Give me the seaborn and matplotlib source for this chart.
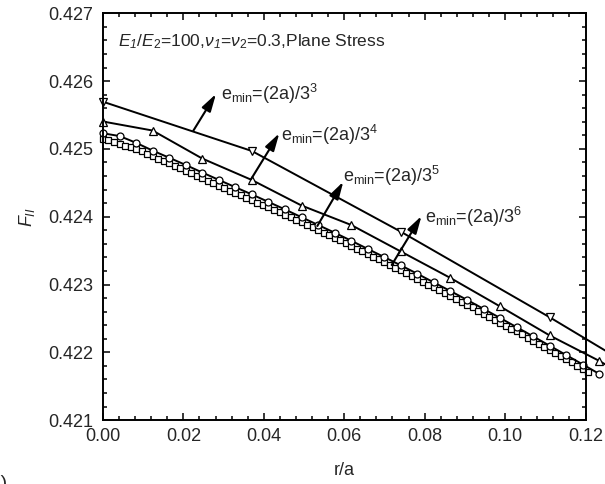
import numpy as np
import pandas as pd
import matplotlib.pyplot as plt
import seaborn as sns

# F_II along r/a for four minimum element sizes e_min = (2a)/3^n
r_e3 = [0.0, 0.03704, 0.07407, 0.11111, 0.14815]
f_e3 = [0.425696, 0.424969, 0.423779, 0.422516, 0.421200]

r_e4 = [0.0, 0.01235, 0.02469, 0.03704, 0.04938, 0.06173, 0.07407, 0.08642,
        0.09877, 0.11111, 0.12346, 0.13580]
f_e4 = [0.425404, 0.425271, 0.424858, 0.424541, 0.424165, 0.423878, 0.423487,
        0.423096, 0.422676, 0.422248, 0.421872, 0.421444]

r_e5 = [0.0, 0.00412, 0.00823, 0.01235, 0.01646, 0.02058, 0.02469, 0.02881,
        0.03292, 0.03704, 0.04115, 0.04527, 0.04938, 0.05350, 0.05761, 0.06173,
        0.06584, 0.06996, 0.07407, 0.07819, 0.08230, 0.08642, 0.09053, 0.09465,
        0.09877, 0.10288, 0.10700, 0.11111, 0.11523, 0.11934, 0.12346]
f_e5 = [0.425230, 0.425190, 0.425090, 0.424975, 0.424870, 0.424763, 0.424652,
        0.424543, 0.424435, 0.424328, 0.424218, 0.424107, 0.423992, 0.423878,
        0.423764, 0.423646, 0.423525, 0.423404, 0.423282, 0.423158, 0.423030,
        0.422903, 0.422773, 0.422640, 0.422506, 0.422370, 0.422234, 0.422096,
        0.421958, 0.421820, 0.421680]

r_e6 = [0.0, 0.00137, 0.00274, 0.00412, 0.00549, 0.00686, 0.00823, 0.00960,
        0.01097, 0.01235, 0.01372, 0.01509, 0.01646, 0.01783, 0.01920, 0.02058,
        0.02195, 0.02332, 0.02469, 0.02606, 0.02743, 0.02881, 0.03018, 0.03155,
        0.03292, 0.03429, 0.03567, 0.03704, 0.03841, 0.03978, 0.04115, 0.04252,
        0.04390, 0.04527, 0.04664, 0.04801, 0.04938, 0.05075, 0.05213, 0.05350,
        0.05487, 0.05624, 0.05761, 0.05898, 0.06036, 0.06173, 0.06310, 0.06447,
        0.06584, 0.06722, 0.06859, 0.06996, 0.07133, 0.07270, 0.07407, 0.07545,
        0.07682, 0.07819, 0.07956, 0.08093, 0.08230, 0.08368, 0.08505, 0.08642,
        0.08779, 0.08916, 0.09053, 0.09191, 0.09328, 0.09465, 0.09602, 0.09739,
        0.09877, 0.10014, 0.10151, 0.10288, 0.10425, 0.10562, 0.10700, 0.10837,
        0.10974, 0.11111, 0.11248, 0.11385, 0.11523, 0.11660, 0.11797, 0.11934,
        0.12071]
f_e6 = [0.425145, 0.425130, 0.425108, 0.425078, 0.425050, 0.425026, 0.425005,
        0.424967, 0.424928, 0.424890, 0.424855, 0.424820, 0.424785, 0.424749,
        0.424714, 0.424678, 0.424641, 0.424604, 0.424567, 0.424531, 0.424494,
        0.424458, 0.424422, 0.424386, 0.424350, 0.424314, 0.424279, 0.424243,
        0.424206, 0.424170, 0.424138, 0.424103, 0.424068, 0.424032, 0.423994,
        0.423955, 0.423917, 0.423879, 0.423841, 0.423803, 0.423765, 0.423727,
        0.423689, 0.423650, 0.423610, 0.423571, 0.423531, 0.423490, 0.423450,
        0.423410, 0.423369, 0.423329, 0.423288, 0.423248, 0.423207, 0.423166,
        0.423124, 0.423083, 0.423040, 0.422998, 0.422962, 0.422920, 0.422877,
        0.422835, 0.422792, 0.422748, 0.422705, 0.422661, 0.422616, 0.422572,
        0.422527, 0.422483, 0.422438, 0.422393, 0.422347, 0.422308, 0.422263,
        0.422217, 0.422172, 0.422126, 0.422080, 0.422034, 0.421988, 0.421942,
        0.421896, 0.421850, 0.421804, 0.421758, 0.421711]

labels = [r'e$_{\mathregular{min}}$=(2a)/3$^{\mathregular{3}}$',
          r'e$_{\mathregular{min}}$=(2a)/3$^{\mathregular{4}}$',
          r'e$_{\mathregular{min}}$=(2a)/3$^{\mathregular{5}}$',
          r'e$_{\mathregular{min}}$=(2a)/3$^{\mathregular{6}}$']

sns.set_style('ticks')
plt.rcParams['font.family'] = ['Liberation Sans', 'DejaVu Sans']
plt.rcParams['mathtext.fontset'] = 'custom'
plt.rcParams['mathtext.rm'] = 'Liberation Sans'
plt.rcParams['mathtext.it'] = 'Liberation Sans:italic'
plt.rcParams['mathtext.sf'] = 'Liberation Sans:italic'
plt.rcParams['mathtext.bf'] = 'Liberation Sans:bold'

fig = plt.figure(figsize=(6.05, 4.84), dpi=100)
ax = fig.add_axes([0.1702, 0.1320, 0.7976, 0.8405])

series = [(r_e6, f_e6, 's', 4.0), (r_e5, f_e5, 'o', 5.0),
          (r_e4, f_e4, '^', 6.0), (r_e3, f_e3, 'v', 6.0)]
for r, f, mk, ms in series:
    df = pd.DataFrame({'r': r, 'F': f})
    sns.lineplot(data=df, x='r', y='F', ax=ax, sort=False, color='black',
                 lw=1.4, marker=mk, markersize=ms, markerfacecolor='white',
                 markeredgecolor='black', markeredgewidth=0.9, clip_on=False)

# arrows pointing to each curve label: (tail, head, text anchor)
arrows = [((0.02246, 0.425268), (0.02810, 0.425810), (0.02935, 0.425721)),
          ((0.03681, 0.424552), (0.04385, 0.425230), (0.04427, 0.425117)),
          ((0.05330, 0.423863), (0.05976, 0.424516), (0.05976, 0.424516)),
          ((0.07180, 0.423288), (0.07921, 0.424010), (0.08008, 0.423912))]
for (tail, head, txt), lab in zip(arrows, labels):
    ax.annotate('', xy=head, xytext=tail,
                arrowprops=dict(arrowstyle='-|>,head_length=0.7,head_width=0.2',
                                color='black', lw=1.5, mutation_scale=15,
                                shrinkA=0, shrinkB=0))
    ax.text(txt[0], txt[1], lab, fontsize=13, ha='left', va='baseline')

ax.text(0.031, 0.930,
        r'$\mathit{E}_{\mathsf{1}}$/$\mathit{E}_{\mathregular{2}}$=100,'
        r'$\nu_{\mathsf{1}}$=$\nu_{\mathregular{2}}$=0.3,Plane Stress',
        fontsize=12.5, ha='left', va='center', transform=ax.transAxes)

ax.set_xlim(0, 0.12)
ax.set_ylim(0.421, 0.427)
ax.set_xticks(np.arange(0, 0.1201, 0.02))
ax.set_xticks(np.arange(0, 0.1201, 0.004), minor=True)
ax.set_yticks(np.arange(0.421, 0.42701, 0.001))
ax.set_yticks(np.arange(0.421, 0.42701, 0.0002), minor=True)
ax.set_xticklabels(['%.2f' % v for v in np.arange(0, 0.1201, 0.02)])
ax.set_yticklabels(['%.3f' % v for v in np.arange(0.421, 0.42701, 0.001)])
ax.tick_params(which='both', direction='in', top=True, right=True,
               width=1.1, labelsize=13, color='black')
ax.tick_params(which='major', length=5)
ax.tick_params(which='minor', length=3)
ax.tick_params(axis='y', pad=7)
ax.tick_params(axis='x', pad=6)
for s in ax.spines.values():
    s.set_visible(True)
    s.set_linewidth(1.4)
    s.set_color('black')

ax.set_xlabel('r/a', fontsize=13, labelpad=12)
ax.set_ylabel(r'$\mathit{F}_{\mathsf{II}}$', fontsize=13, labelpad=8)

fig.text(8 / 605, -4 / 484, '(a)', fontsize=14, ha='right', va='baseline')

fig.savefig('out.png', dpi=100)
